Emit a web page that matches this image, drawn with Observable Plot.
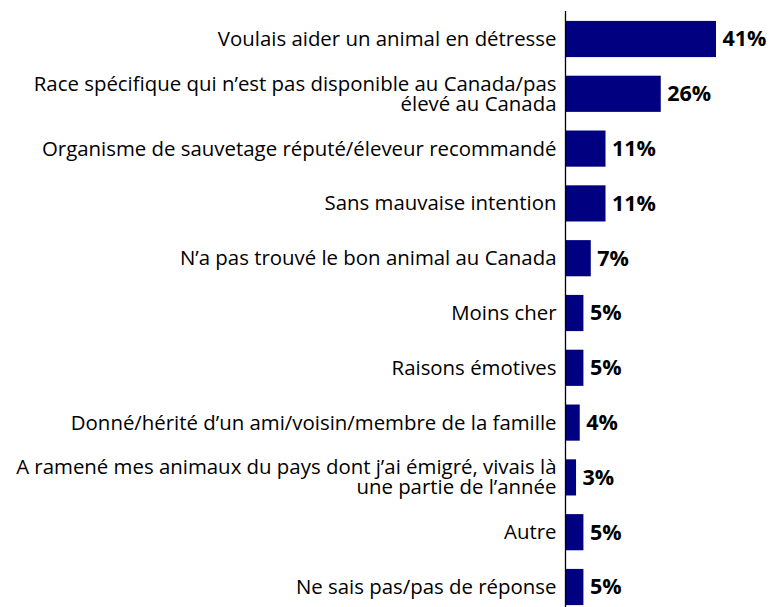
<!DOCTYPE html>
<html>
<head>
<meta charset="utf-8">
<script src="https://cdn.jsdelivr.net/npm/d3@7"></script>
<script src="https://cdn.jsdelivr.net/npm/@observablehq/plot@0.6"></script>
<style>
  html, body { margin: 0; padding: 0; background: #fff; }
  #chart svg { display: block; }
</style>
</head>
<body>
<div id="chart"></div>
<script>
const categories = [
  "Voulais aider un animal en détresse",
  "Race spécifique qui n’est pas disponible au Canada/pas\nélevé au Canada",
  "Organisme de sauvetage réputé/éleveur recommandé",
  "Sans mauvaise intention",
  "N’a pas trouvé le bon animal au Canada",
  "Moins cher",
  "Raisons émotives",
  "Donné/hérité d’un ami/voisin/membre de la famille",
  "A ramené mes animaux du pays dont j’ai émigré, vivais là\nune partie de l’année",
  "Autre",
  "Ne sais pas/pas de réponse"
];
const values = [41, 26, 11, 11, 7, 5, 5, 4, 3, 5, 5];

const data = categories.map((c, i) => ({category: c, value: values[i]}));
const font = "'Open Sans', sans-serif";

const chart = Plot.plot({
  width: 771,
  height: 607,
  marginLeft: 565,
  marginRight: 55,
  marginTop: 11,
  marginBottom: 0,
  style: {fontFamily: font, background: "#fff"},
  x: {domain: [0, 41], axis: null},
  y: {domain: categories, range: [11.6, 614.4], paddingInner: 0.34, paddingOuter: 0.17, round: false, axis: null},
  marks: [
    Plot.barX(data, {x: "value", y: "category", fill: "#000080"}),
    Plot.ruleX([0], {stroke: "#000", strokeWidth: 1.3}),
    Plot.text(data, {
      x: 0, y: "category", text: "category", textAnchor: "end", dx: -9,
      fontSize: 20.4, fill: "#000", lineHeight: 0.98
    }),
    Plot.text(data, {
      x: "value", y: "category", text: d => d.value + "%", textAnchor: "start", dx: 6,
      fontSize: 21.5, fontWeight: "bold", fill: "#000"
    })
  ]
});
document.getElementById("chart").appendChild(chart);
</script>
</body>
</html>
